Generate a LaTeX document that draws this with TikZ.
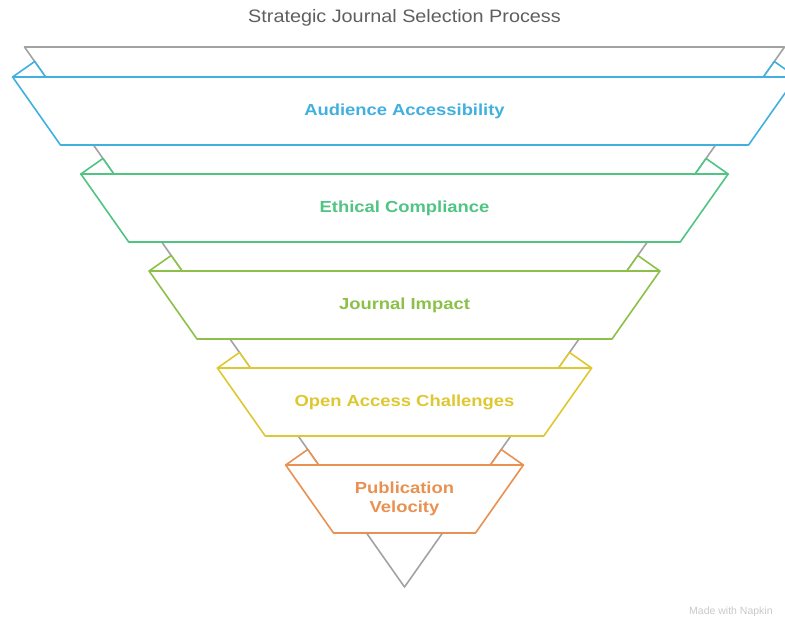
\documentclass[tikz,border=0pt]{standalone}
\usepackage{fontspec}
\setmainfont{Liberation Sans}
\newfontfamily\titlefont[FakeStretch=1.1]{Liberation Sans}
\newfontfamily\bandfont[FakeStretch=1.15]{Liberation Sans}
\definecolor{funnelgray}{RGB}{162,162,162}
\definecolor{titlegray}{RGB}{95,95,95}
\definecolor{markgray}{RGB}{200,200,200}
\definecolor{bandblue}{RGB}{64,176,222}
\definecolor{bandgreen}{RGB}{80,196,130}
\definecolor{bandlime}{RGB}{140,192,72}
\definecolor{bandyellow}{RGB}{222,200,50}
\definecolor{bandorange}{RGB}{232,145,80}
\tikzset{
  band/.style={line width=1.6pt, line join=round, fill=white},
  bandlabel/.style={font=\bandfont\bfseries\fontsize{16}{19}\selectfont, align=center}
}
\begin{document}
\begin{tikzpicture}[x=1pt, y=-1pt]
    \useasboundingbox (0,0) rectangle (785,619);
    \clip (0,0) rectangle (785,619);

    \node [text=titlegray, font=\titlefont\fontsize{18}{21}\selectfont] (title) at (404.5,18) {Strategic Journal Selection Process};

    \draw [funnelgray, line width=1.6pt, line join=round] (24.5,47) -- (784.5,47) -- (404.5,587) -- cycle;

    \foreach \i/\c/\t in {0/bandblue/Audience Accessibility, 1/bandgreen/Ethical Compliance, 2/bandlime/Journal Impact, 3/bandyellow/Open Access Challenges, 4/bandorange/Publication\\Velocity} {
        \pgfmathsetmacro\yt{77+97*\i}
        \pgfmathsetmacro\yb{\yt+68}
        \pgfmathsetmacro\xt{(587-\yt)*0.7037+33}
        \pgfmathsetmacro\xb{(587-\yb)*0.7037+33}
        \draw [band, draw=\c] (404.5-\xt,\yt) -- (404.5+\xt,\yt) -- (404.5+\xb,\yb) -- (404.5-\xb,\yb) -- cycle;
        \draw [band, draw=\c] (404.5-\xt,\yt) -- ++(22.07,-15.5) -- (404.5-\xt+33,\yt) -- cycle;
        \draw [band, draw=\c] (404.5+\xt,\yt) -- ++(-22.07,-15.5) -- (404.5+\xt-33,\yt) -- cycle;
        \node [bandlabel, text=\c] (band\i) at (404.5,\yt+34) {\t};
    }

    \node [anchor=west, inner sep=0pt, text=markgray, font=\fontsize{10.5}{12}\selectfont] (mark) at (689,612) {Made with Napkin};
\end{tikzpicture}
\end{document}
